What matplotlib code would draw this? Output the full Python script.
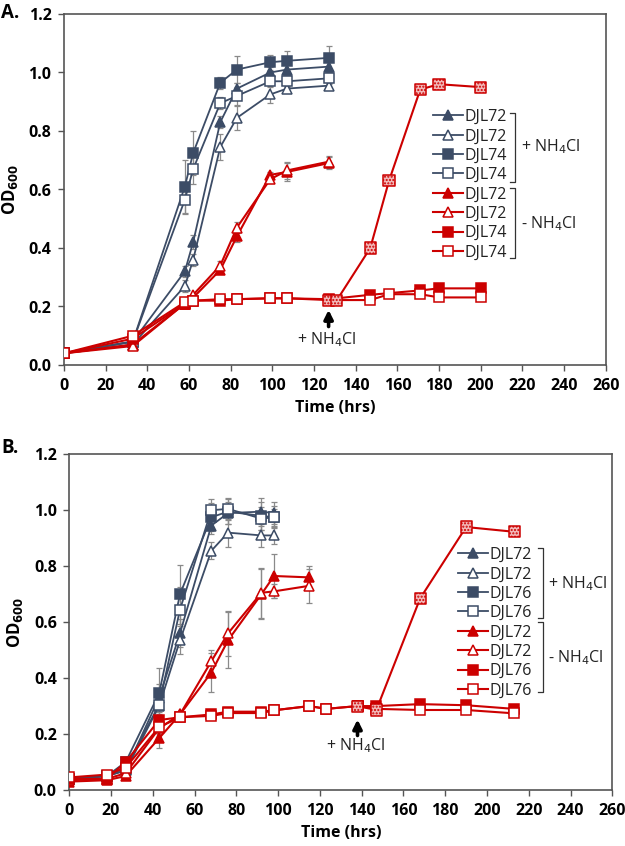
import numpy as np
import matplotlib
matplotlib.use("Agg")
import matplotlib.pyplot as plt
from matplotlib.lines import Line2D

plt.rcParams['font.family'] = ['Open Sans', 'DejaVu Sans']
plt.rcParams['hatch.linewidth'] = 1.0

W, H = 625, 846
BLUE = '#3c4c66'
RED = '#cc0000'
HATCH_FC = '#f2b8b8'
ERR = '#8a8a8a'

# ---------------- panel A data ----------------
tA = [0, 33, 58, 62, 75, 83, 99, 107, 127]
a_72p_f = [0.04, 0.08, 0.32, 0.42, 0.83, 0.945, 1.00, 1.01, 1.02]
a_72p_f_err = [0, 0, 0.02, 0.025, 0.02, 0.02, 0.02, 0.02, 0.02]
a_72p_o = [0.04, 0.07, 0.27, 0.36, 0.745, 0.845, 0.925, 0.945, 0.955]
a_72p_o_err = [0, 0, 0.02, 0.02, 0.045, 0.04, 0.03, 0.01, 0.01]
a_74p_f = [0.04, 0.08, 0.61, 0.725, 0.965, 1.01, 1.035, 1.04, 1.05]
a_74p_f_err = [0, 0, 0.09, 0.075, 0.02, 0.045, 0.025, 0.035, 0.04]
a_74p_o = [0.04, 0.08, 0.565, 0.67, 0.895, 0.92, 0.97, 0.97, 0.98]
a_74p_o_err = [0, 0, 0.05, 0.05, 0.02, 0.03, 0.02, 0.02, 0.02]

a_72m_f = [0.04, 0.07, 0.21, 0.23, 0.325, 0.44, 0.65, 0.66, 0.69]
a_72m_f_err = [0, 0, 0, 0, 0.01, 0.02, 0.01, 0.03, 0.02]
a_72m_o = [0.04, 0.065, 0.21, 0.24, 0.34, 0.47, 0.635, 0.665, 0.695]
a_72m_o_err = [0, 0, 0, 0, 0.015, 0.02, 0.01, 0.03, 0.02]

tA_sq = [0, 33, 58, 62, 75, 83, 99, 107, 127, 147, 171, 180, 200]
a_74m_f = [0.04, 0.09, 0.21, 0.22, 0.22, 0.225, 0.228, 0.228, 0.225, 0.24, 0.255, 0.262, 0.262]
tA_sq2 = [0, 33, 58, 62, 75, 83, 99, 107, 127, 147, 156, 171, 180, 200]
a_74m_o = [0.04, 0.10, 0.215, 0.22, 0.225, 0.225, 0.228, 0.228, 0.222, 0.222, 0.242, 0.242, 0.231, 0.231]

tA_add = [127, 131, 147, 156, 171, 180, 200]
a_add = [0.222, 0.222, 0.40, 0.63, 0.942, 0.96, 0.95]

# ---------------- panel B data ----------------
tB = [0, 18, 27, 43, 53, 68, 76, 92, 98]
b_72p_f = [0.04, 0.05, 0.07, 0.33, 0.56, 0.945, 0.99, 0.995, 0.99]
b_72p_f_err = [0, 0, 0, 0.05, 0.05, 0.03, 0.04, 0.05, 0.04]
b_72p_o = [0.04, 0.05, 0.07, 0.30, 0.535, 0.855, 0.92, 0.91, 0.91]
b_72p_o_err = [0, 0, 0, 0.03, 0.05, 0.03, 0.05, 0.04, 0.03]
b_76p_f = [0.04, 0.05, 0.10, 0.345, 0.70, 0.975, 0.995, 0.98, 0.975]
b_76p_f_err = [0, 0, 0, 0.09, 0.105, 0.05, 0.045, 0.05, 0.04]
b_76p_o = [0.04, 0.05, 0.08, 0.305, 0.645, 1.00, 1.005, 0.97, 0.975]
b_76p_o_err = [0, 0, 0, 0.05, 0.08, 0.04, 0.04, 0.04, 0.03]

tB_r = [0, 18, 27, 43, 53, 68, 76, 92, 98, 115]
b_72m_f = [0.03, 0.035, 0.05, 0.185, 0.27, 0.42, 0.535, 0.70, 0.765, 0.76]
b_72m_f_err = [0, 0, 0, 0.035, 0, 0.07, 0.1, 0.09, 0.08, 0.04]
b_72m_o = [0.035, 0.04, 0.06, 0.22, 0.27, 0.46, 0.56, 0.705, 0.71, 0.73]
b_72m_o_err = [0, 0, 0, 0.02, 0, 0.04, 0.08, 0.09, 0.025, 0.06]

tB_sq = [0, 18, 27, 43, 53, 68, 76, 92, 98, 115, 123, 138, 147, 168, 190, 213]
b_76m_f = [0.04, 0.04, 0.10, 0.25, 0.26, 0.27, 0.28, 0.28, 0.285, 0.30, 0.29, 0.30, 0.30, 0.307, 0.303, 0.29]
b_76m_o = [0.045, 0.055, 0.08, 0.225, 0.26, 0.265, 0.275, 0.275, 0.285, 0.30, 0.29, 0.30, 0.29, 0.286, 0.286, 0.274]

tB_add = [138, 147, 168, 190, 213]
b_add = [0.30, 0.286, 0.685, 0.94, 0.923]

labels_A = ['DJL72', 'DJL72', 'DJL74', 'DJL74', 'DJL72', 'DJL72', 'DJL74', 'DJL74']
labels_B = ['DJL72', 'DJL72', 'DJL76', 'DJL76', 'DJL72', 'DJL72', 'DJL76', 'DJL76']

FS = 11.5


def frac(px, py):
    return px / W, 1 - py / H


def series(ax, t, y, err, color, marker, filled, lw, ms=7.8, z=3):
    fc = color if filled else 'white'
    if err is not None:
        ax.errorbar(t, y, yerr=err, fmt='none', ecolor=ERR, elinewidth=0.9,
                     capsize=2.5, capthick=0.9, zorder=z - 1)
    line, = ax.plot(t, y, color=color, lw=lw, marker=marker, ms=ms,
                    mfc=fc, mec=color, mew=1.1, zorder=z)
    return line


def style_axes(ax):
    ax.set_xlim(0, 260)
    ax.set_ylim(0, 1.2)
    ax.set_xticks(np.arange(0, 261, 20))
    ax.set_yticks(np.arange(0, 1.21, 0.2))
    ax.set_yticklabels([f'{v:.1f}' for v in np.arange(0, 1.21, 0.2)])
    ax.tick_params(direction='out', length=4, width=1, color='#555555',
                   labelsize=11.5, pad=5)
    for lab in ax.get_xticklabels() + ax.get_yticklabels():
        lab.set_fontweight('bold')
    for s in ax.spines.values():
        s.set_color('#555555')
        s.set_linewidth(1.2)
    ax.set_xlabel('Time (hrs)', fontsize=11.5, fontweight='bold', labelpad=5)
    ax.set_ylabel('OD$_{\\mathbf{600}}$', fontsize=12, fontweight='bold', labelpad=6)


def legend_block(ax, handles, labels, x0, y0, bx, b1, b2, b3, b4, tx, ty1, ty2):
    leg = ax.legend(handles, labels, loc='upper left', bbox_to_anchor=frac(x0, y0),
                    bbox_transform=fig.transFigure, frameon=False, fontsize=FS,
                    handlelength=1.9, handletextpad=0.1, labelspacing=0.21,
                    borderpad=0, borderaxespad=0, markerscale=0.9)
    for tx_ in leg.get_texts():
        tx_.set_color('#222222')
    # brackets
    for (ya, yb) in [(b1, b2), (b3, b4)]:
        xs = [bx - 5, bx, bx, bx - 5]
        ys = [ya, ya, yb, yb]
        pts = [frac(x, y) for x, y in zip(xs, ys)]
        fig.add_artist(Line2D([p[0] for p in pts], [p[1] for p in pts],
                              color='#333333', lw=0.9))
    fx, fy = frac(tx, ty1)
    fig.text(fx, fy, '+ NH$_4$Cl', fontsize=FS, va='center', ha='left', color='#222222')
    fx, fy = frac(tx, ty2)
    fig.text(fx, fy, '- NH$_4$Cl', fontsize=FS, va='center', ha='left', color='#222222')


fig = plt.figure(figsize=(W / 100, H / 100), dpi=100)

# ================= panel A =================
l, b = frac(64, 365)
r, t = frac(605.7, 14)
axA = fig.add_axes([l, b, r - l, t - b])
hA = []
hA.append(series(axA, tA, a_72p_f, a_72p_f_err, BLUE, '^', True, 1.3))
hA.append(series(axA, tA, a_72p_o, a_72p_o_err, BLUE, '^', False, 1.3))
hA.append(series(axA, tA, a_74p_f, a_74p_f_err, BLUE, 's', True, 1.3))
hA.append(series(axA, tA, a_74p_o, a_74p_o_err, BLUE, 's', False, 1.3))
hA.append(series(axA, tA, a_72m_f, a_72m_f_err, RED, '^', True, 1.5, z=4))
hA.append(series(axA, tA, a_72m_o, a_72m_o_err, RED, '^', False, 1.5, z=4))
hA.append(series(axA, tA_sq, a_74m_f, None, RED, 's', True, 1.5, z=4))
hA.append(series(axA, tA_sq2, a_74m_o, None, RED, 's', False, 1.5, z=4))
axA.plot(tA_add, a_add, color=RED, lw=1.5, zorder=5)
axA.scatter(tA_add, a_add, marker='s', s=64, facecolor=HATCH_FC, edgecolor=RED,
            hatch='.....', linewidth=1.1, zorder=6)
axA.annotate('', xy=(127, 0.198), xytext=(127, 0.122),
             arrowprops=dict(arrowstyle='-|>', color='black', lw=2.6, mutation_scale=13))
axA.text(126, 0.085, '+ NH$_4$Cl', fontsize=FS, ha='center', va='center', color='#222222')
style_axes(axA)
legend_block(axA, hA, labels_A, 433, 109, 515, 112.7, 181.7, 188.3, 258.3, 521, 146.7, 224)
fig.text(*frac(1, 13), 'A.', fontsize=13.5, fontweight='bold', va='center', ha='left')

# ================= panel B =================
l, b = frac(69.3, 790)
r, t = frac(612.3, 454.3)
axB = fig.add_axes([l, b, r - l, t - b])
hB = []
hB.append(series(axB, tB, b_72p_f, b_72p_f_err, BLUE, '^', True, 1.3))
hB.append(series(axB, tB, b_72p_o, b_72p_o_err, BLUE, '^', False, 1.3))
hB.append(series(axB, tB, b_76p_f, b_76p_f_err, BLUE, 's', True, 1.3))
hB.append(series(axB, tB, b_76p_o, b_76p_o_err, BLUE, 's', False, 1.3))
hB.append(series(axB, tB_r, b_72m_f, b_72m_f_err, RED, '^', True, 1.5, z=4))
hB.append(series(axB, tB_r, b_72m_o, b_72m_o_err, RED, '^', False, 1.5, z=4))
hB.append(series(axB, tB_sq, b_76m_f, None, RED, 's', True, 1.5, z=4))
hB.append(series(axB, tB_sq, b_76m_o, None, RED, 's', False, 1.5, z=4))
axB.plot(tB_add, b_add, color=RED, lw=1.5, zorder=5)
axB.scatter(tB_add, b_add, marker='s', s=64, facecolor=HATCH_FC, edgecolor=RED,
            hatch='.....', linewidth=1.1, zorder=6)
axB.annotate('', xy=(138, 0.262), xytext=(138, 0.185),
             arrowprops=dict(arrowstyle='-|>', color='black', lw=2.6, mutation_scale=13))
axB.text(137, 0.16, '+ NH$_4$Cl', fontsize=FS, ha='center', va='center', color='#222222')
style_axes(axB)
legend_block(axB, hB, labels_B, 458, 547, 543, 548.3, 618.3, 621.7, 691.7, 548, 583.3, 657.3)
fig.text(*frac(1, 448), 'B.', fontsize=13.5, fontweight='bold', va='center', ha='left')

fig.savefig('out.png', dpi=100)
